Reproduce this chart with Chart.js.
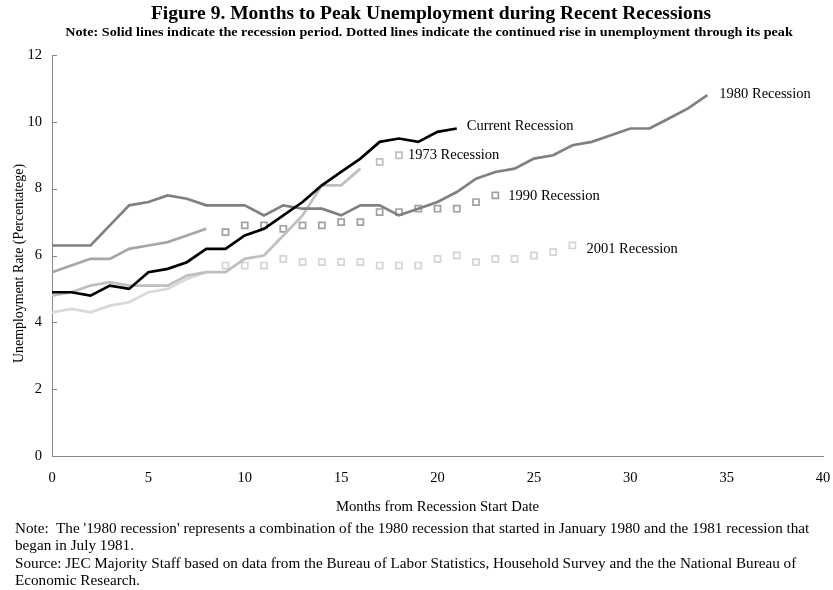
<!DOCTYPE html>
<html>
<head>
<meta charset="utf-8">
<script src="https://cdn.jsdelivr.net/npm/chart.js@4.4.1/dist/chart.umd.min.js"></script>
<style>
  body { margin: 0; background: #fff; }
  #wrap { position: relative; width: 833px; height: 590px; overflow: hidden; font-family: "Liberation Serif", "Times New Roman", serif; }
  #title { position: absolute; top: 2px; left: 431px; transform: translateX(-50%); white-space: nowrap; font-weight: bold; font-size: 19.5px; line-height: 22px; }
  #subtitle { position: absolute; top: 24px; left: 429px; transform: translateX(-50%) scaleX(1.09); white-space: nowrap; font-weight: bold; font-size: 13px; line-height: 15px; }
  #chart-box { position: absolute; top: 0; left: 0; width: 833px; height: 520px; }
  #notes { position: absolute; top: 519px; left: 15px; font-size: 15.2px; line-height: 17.3px; white-space: nowrap; }
</style>
</head>
<body>
<div id="wrap">
  <div id="chart-box"><canvas id="chart"></canvas></div>
  <div id="title">Figure 9. Months to Peak Unemployment during Recent Recessions</div>
  <div id="subtitle">Note: Solid lines indicate the recession period. Dotted lines indicate the continued rise in unemployment through its peak</div>
  <div id="notes">
    Note:&nbsp; The '1980 recession' represents a combination of the 1980 recession that started in January 1980 and the 1981 recession that<br>
    began in July 1981.<br>
    Source: JEC Majority Staff based on data from the Bureau of Labor Statistics, Household Survey and the the National Bureau of<br>
    Economic Research.
  </div>
</div>
<script>
// unemployment rate by month since recession start (month 0 = first value)
const current = [4.9, 4.9, 4.8, 5.1, 5.0, 5.5, 5.6, 5.8, 6.2, 6.2, 6.6, 6.8, 7.2, 7.6, 8.1, 8.5, 8.9, 9.4, 9.5, 9.4, 9.7, 9.8];
const rec1973 = [4.8, 4.9, 5.1, 5.2, 5.1, 5.1, 5.1, 5.4, 5.5, 5.5, 5.9, 6.0, 6.6, 7.2, 8.1, 8.1, 8.6];
const rec1973After = [8.8, 9.0];
const rec1980 = [6.3, 6.3, 6.3, 6.9, 7.5, 7.6, 7.8, 7.7, 7.5, 7.5, 7.5, 7.2, 7.5, 7.4, 7.4, 7.2, 7.5, 7.5, 7.2, 7.4,
                 7.6, 7.9, 8.3, 8.5, 8.6, 8.9, 9.0, 9.3, 9.4, 9.6, 9.8, 9.8, 10.1, 10.4, 10.8];
const rec1990 = [5.5, 5.7, 5.9, 5.9, 6.2, 6.3, 6.4, 6.6, 6.8];
const rec1990After = [6.7, 6.9, 6.9, 6.8, 6.9, 6.9, 7.0, 7.0, 7.3, 7.3, 7.4, 7.4, 7.4, 7.6, 7.8];
const rec2001 = [4.3, 4.4, 4.3, 4.5, 4.6, 4.9, 5.0, 5.3, 5.5];
const rec2001After = [5.7, 5.7, 5.7, 5.9, 5.8, 5.8, 5.8, 5.8, 5.7, 5.7, 5.7, 5.9, 6.0, 5.8, 5.9, 5.9, 6.0, 6.1, 6.3];

const xTicks = [0, 5, 10, 15, 20, 25, 30, 35, 40];
const yTicks = [0, 2, 4, 6, 8, 10, 12];
const yTitle = 'Unemployment Rate (Percentatege)';

function toPoints(values, start) {
    return values.map((v, i) => ({ x: start + i, y: v }));
}

function solid(label, values, color) {
    return {
        label: label,
        data: toPoints(values, 0),
        borderColor: color,
        borderWidth: 2.7,
        pointRadius: 0,
        tension: 0,
        fill: false
    };
}

function dotted(label, values, start, color) {
    return {
        label: label,
        data: toPoints(values, start),
        showLine: false,
        pointStyle: 'rect',
        pointRadius: 4.3,
        pointBorderWidth: 1.7,
        pointBorderColor: color,
        pointBackgroundColor: 'rgba(255,255,255,0)',
        borderColor: color
    };
}

// text placed right of the last point of a series
const seriesLabels = [
    { dataset: 0, text: 'Current Recession', dx: 10, dy: -2 },
    { dataset: 4, text: '1973 Recession', dx: 9, dy: 0 },
    { dataset: 6, text: '1990 Recession', dx: 13, dy: 1 },
    { dataset: 7, text: '2001 Recession', dx: 14, dy: 4 },
    { dataset: 1, text: '1980 Recession', dx: 12, dy: -1 }
];

const serif = '"Liberation Serif", "Times New Roman", serif';

const labelPlugin = {
    id: 'seriesLabels',
    afterDatasetsDraw(chart) {
        const ctx = chart.ctx;
        ctx.save();
        ctx.font = '14.5px ' + serif;
        ctx.fillStyle = '#000';
        ctx.textBaseline = 'middle';
        ctx.textAlign = 'left';
        seriesLabels.forEach(l => {
            const pts = chart.data.datasets[l.dataset].data;
            const last = pts[pts.length - 1];
            const px = chart.scales.x.getPixelForValue(last.x);
            const py = chart.scales.y.getPixelForValue(last.y);
            ctx.fillText(l.text, px + l.dx, py + l.dy);
        });
        ctx.restore();
    }
};

// short tick marks on the inner side of the y axis, plus the axis title
// (the title sits a little below the middle of the axis in the original)
const yAxisExtras = {
    id: 'yAxisExtras',
    afterDraw(chart) {
        const y = chart.scales.y;
        const ctx = chart.ctx;
        ctx.save();
        ctx.strokeStyle = '#868686';
        ctx.lineWidth = 1;
        y.ticks.forEach(t => {
            const py = Math.round(y.getPixelForValue(t.value)) + 0.5;
            ctx.beginPath();
            ctx.moveTo(y.right, py);
            ctx.lineTo(y.right + 5, py);
            ctx.stroke();
        });
        ctx.translate(y.left + 11, (y.top + y.bottom) / 2 + 8);
        ctx.rotate(-Math.PI / 2);
        ctx.font = '13.9px ' + serif;
        ctx.fillStyle = '#000';
        ctx.textAlign = 'center';
        ctx.textBaseline = 'middle';
        ctx.fillText(yTitle, 0, 0);
        ctx.restore();
    }
};

new Chart(document.getElementById('chart'), {
    type: 'line',
    data: {
        datasets: [
            solid('Current Recession', current, '#000000'),
            solid('1980 Recession', rec1980, '#808080'),
            solid('1990 Recession', rec1990, '#a6a6a6'),
            solid('1973 Recession', rec1973, '#bfbfbf'),
            dotted('1973 Recession (to peak)', rec1973After, 17, '#bfbfbf'),
            solid('2001 Recession', rec2001, '#d9d9d9'),
            dotted('1990 Recession (to peak)', rec1990After, 9, '#a0a0a0'),
            dotted('2001 Recession (to peak)', rec2001After, 9, '#d4d4d4')
        ]
    },
    options: {
        responsive: true,
        maintainAspectRatio: false,
        animation: false,
        layout: { padding: { top: 55, left: 8, right: 10, bottom: 0 } },
        plugins: {
            legend: { display: false },
            tooltip: { enabled: false }
        },
        scales: {
            x: {
                type: 'linear',
                min: 0,
                max: 40,
                afterBuildTicks: (scale) => { scale.ticks = xTicks.map(v => ({ value: v })); },
                afterFit: (scale) => { scale.height = 64; scale.paddingLeft = 0; scale.paddingRight = 0; },
                grid: { display: false, drawTicks: false },
                border: { display: true, color: '#868686', width: 1 },
                ticks: { color: '#000', padding: 13, font: { family: serif, size: 14.5 }, maxRotation: 0 },
                title: { display: true, text: 'Months from Recession Start Date', color: '#000', padding: { top: 0, bottom: 4 }, font: { family: serif, size: 14.7 } }
            },
            y: {
                min: 0,
                max: 12,
                afterBuildTicks: (scale) => { scale.ticks = yTicks.map(v => ({ value: v })); },
                afterFit: (scale) => { scale.width = 44; },
                grid: { display: false, drawTicks: false },
                border: { display: true, color: '#868686', width: 1 },
                ticks: { color: '#000', padding: 10, font: { family: serif, size: 14.5 } },
                title: { display: false }
            }
        }
    },
    plugins: [labelPlugin, yAxisExtras]
});
</script>
</body>
</html>
